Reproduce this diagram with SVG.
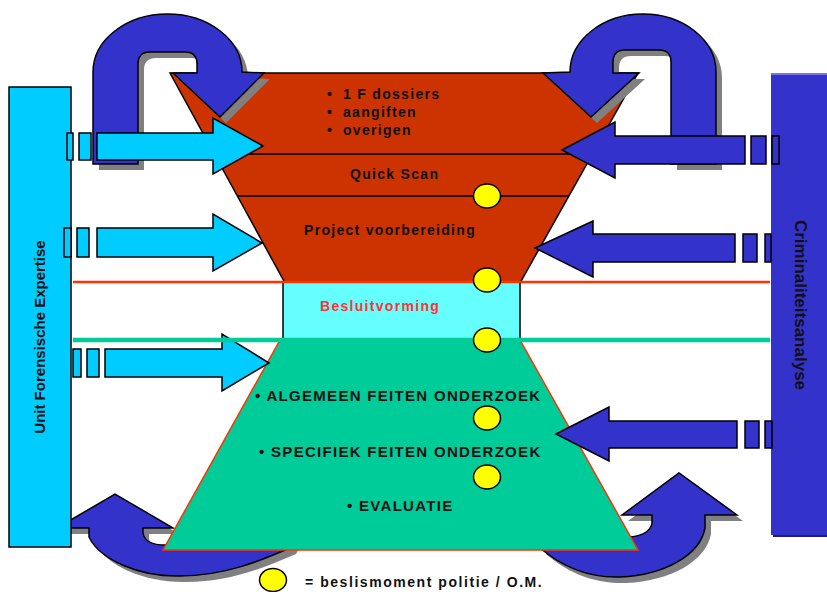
<svg xmlns="http://www.w3.org/2000/svg" width="827" height="592" viewBox="0 0 827 592">
<style>
.stk{stroke:#000;stroke-width:1.5;stroke-linejoin:miter}
.blue{fill:#3333CC}
.cyan{fill:#00CCFF}
.shadow{fill:#808080}
.dot{fill:#FFFF00;stroke:#000;stroke-width:1.5}
.t{font-family:"Liberation Sans",Arial,sans-serif;font-weight:bold;fill:#111}
.t14{font-size:14px;letter-spacing:1.3px}
.t15{font-size:15px;letter-spacing:1.3px}
</style>
<rect width="827" height="592" fill="#fff"/>

<g id="funnel-top">
  <polygon points="170,73 638,73 520,283 285,283" fill="#CC3300" class="stk"/>
  <line x1="215" y1="154" x2="593" y2="154" class="stk"/>
  <line x1="238" y1="196" x2="569" y2="196" class="stk"/>
</g>

<g id="loops">
  <path class="shadow" transform="translate(6,6)" d="M93,164 L93,72 A74.5,58 0 0 1 242,72 L264,73 L220,117 L173,73 L197,73 L197,64 Q197,52 185,52 L150,52 Q138,52 138,64 L138,164 Z"/>
  <path class="blue stk" d="M93,164 L93,72 A74.5,58 0 0 1 242,72 L264,73 L220,117 L173,73 L197,73 L197,64 Q197,52 185,52 L150,52 Q138,52 138,64 L138,164 Z"/>
  <path class="shadow" transform="translate(6,6)" d="M716,164 L716,72 A73,58 0 0 0 570,72 L543,73 L591,117 L639,73 L613,73 L613,62 Q613,50 625,50 L659,50 Q671,50 671,62 L671,164 Z"/>
  <path class="blue stk" d="M716,164 L716,72 A73,58 0 0 0 570,72 L543,73 L591,117 L639,73 L613,73 L613,62 Q613,50 625,50 L659,50 Q671,50 671,62 L671,164 Z"/>
  <path class="shadow" transform="translate(6,6)" d="M57,528 L115,494 L173,528 L143,528 L143,533 Q145,545 165,545 L240,530 L300,530 L290,548 C262,560 225,576 180,576 C140,577 100,560 89,537 L89,528 Z"/>
  <path class="blue stk" d="M57,528 L115,494 L173,528 L143,528 L143,533 Q145,545 165,545 L240,530 L300,530 L290,548 C262,560 225,576 180,576 C140,577 100,560 89,537 L89,528 Z"/>
  <path class="shadow" transform="translate(6,6)" d="M737,515 L679,473 L622,515 L652,515 L652,523 Q650,535 630,537 L540,537 L540,548 C560,565 585,578 620,577 C665,575 700,555 705,528 L705,515 Z"/>
  <path class="blue stk" d="M737,515 L679,473 L622,515 L652,515 L652,523 Q650,535 630,537 L540,537 L540,548 C560,565 585,578 620,577 C665,575 700,555 705,528 L705,515 Z"/>
</g>

<g id="unit-forensische-expertise">
  <rect x="9" y="87" width="62" height="460" class="cyan stk"/>
  <text class="t" font-size="15" text-anchor="middle" transform="translate(45,337) rotate(-90)">Unit Forensische Expertise</text>
</g>

<g id="criminaliteitsanalyse">
  <rect x="771" y="73" width="56" height="462" fill="#3333CC"/>
  <line x1="771" y1="74" x2="827" y2="74" stroke="#7777DD" stroke-width="2"/>
  <line x1="773" y1="536" x2="827" y2="536" stroke="#1E1E88" stroke-width="2"/>
  <text class="t" font-size="17" text-anchor="middle" transform="translate(795,305) rotate(90)">Criminaliteitsanalyse</text>
</g>

<g id="funnel-bottom">
  <polygon points="280,340 520,340 638,550 163,550" fill="#00CC99" stroke="#FF3300" stroke-width="1.5"/>
</g>

<g id="besluitvorming">
  <rect x="283" y="282" width="237" height="58" fill="#66FFFF" class="stk"/>
  <text class="t t14" x="320" y="311" style="fill:#FF3333">Besluitvorming</text>
</g>

<g id="connectors">
  <rect x="67" y="133" width="6" height="27" class="cyan stk"/>
  <rect x="79" y="133" width="12" height="27" class="cyan stk"/>
  <path class="cyan stk" d="M97,133 L213,133 L213,118 L263,146 L213,174 L213,160 L97,160 Z"/>
  <rect x="64" y="228" width="7" height="29" class="cyan stk"/>
  <rect x="77" y="228" width="12" height="29" class="cyan stk"/>
  <path class="cyan stk" d="M97,228 L213,228 L213,214 L262,243 L213,271 L213,257 L97,257 Z"/>
  <rect x="73" y="349" width="8" height="28" class="cyan stk"/>
  <rect x="87" y="349" width="12" height="28" class="cyan stk"/>
  <path class="cyan stk" d="M105,349 L222,349 L222,334 L269,363 L222,391 L222,377 L105,377 Z"/>
  <path class="blue stk" d="M562,150 L615,122 L615,136 L745,136 L745,164 L615,164 L615,178 Z"/>
  <rect x="751" y="136" width="15" height="28" class="blue stk"/>
  <rect x="772" y="136" width="7" height="28" class="blue stk"/>
  <path class="blue stk" d="M535,248 L593,221 L593,234 L735,234 L735,262 L593,262 L593,277 Z"/>
  <rect x="743" y="234" width="14" height="28" class="blue stk"/>
  <rect x="765" y="234" width="6" height="28" class="blue stk"/>
  <path class="blue stk" d="M556,434 L609,407 L609,421 L737,421 L737,448 L609,448 L609,461 Z"/>
  <rect x="745" y="421" width="14" height="27" class="blue stk"/>
  <rect x="765" y="421" width="7" height="27" class="blue stk"/>
  <line x1="73" y1="282" x2="770" y2="282" stroke="#FF3300" stroke-width="2.5"/>
  <line x1="73" y1="340" x2="770" y2="340" stroke="#00CC99" stroke-width="4.5"/>
</g>

<g id="funnel-text">
  <text class="t t14" x="327" y="99">•</text>
  <text class="t t14" x="343" y="99">1 F dossiers</text>
  <text class="t t14" x="327" y="117">•</text>
  <text class="t t14" x="343" y="117">aangiften</text>
  <text class="t t14" x="327" y="135">•</text>
  <text class="t t14" x="343" y="135">overigen</text>
  <text class="t t14" x="350" y="179">Quick Scan</text>
  <text class="t t14" x="304" y="235">Project voorbereiding</text>
  <text class="t t15" x="255" y="401">• ALGEMEEN FEITEN ONDERZOEK</text>
  <text class="t t15" x="259" y="457">• SPECIFIEK FEITEN ONDERZOEK</text>
  <text class="t t15" x="347" y="511">• EVALUATIE</text>
</g>

<g id="decision-points">
  <ellipse cx="487" cy="196" rx="13.5" ry="12" class="dot"/>
  <ellipse cx="487" cy="280" rx="13.5" ry="12" class="dot"/>
  <ellipse cx="487" cy="340" rx="13.5" ry="12" class="dot"/>
  <ellipse cx="487" cy="418" rx="13.5" ry="12" class="dot"/>
  <ellipse cx="487" cy="477" rx="13.5" ry="12" class="dot"/>
</g>

<g id="legend">
  <ellipse cx="273" cy="580" rx="13.5" ry="11.5" class="dot"/>
  <text class="t" font-size="14" letter-spacing="1.55" x="305" y="587">= beslismoment politie / O.M.</text>
</g>
</svg>
